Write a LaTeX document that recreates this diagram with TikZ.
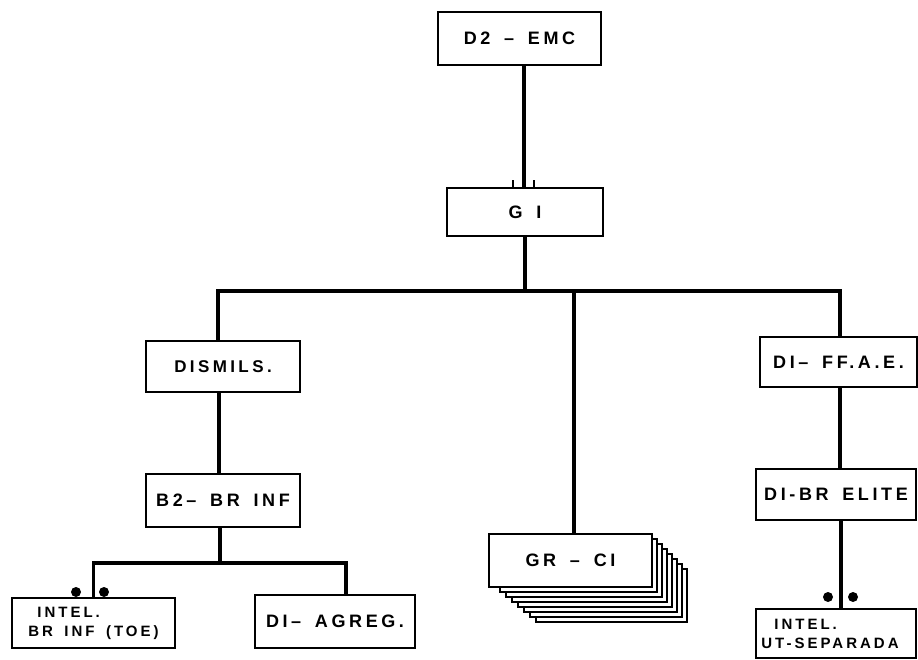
\documentclass[tikz,border=0pt]{standalone}
\usepackage{fontspec}
\setmainfont{Liberation Sans}
\newfontfamily\lbl{Liberation Sans Bold}[LetterSpace=20, WordSpace=1.6]
\begin{document}
\begin{tikzpicture}[x=1pt,y=-1pt,
  box/.style={draw, line width=2.4pt, fill=white, inner sep=0pt, align=center,
    font=\lbl\fontsize{18}{20}\selectfont},
  smallbox/.style={box, align=left, font=\lbl\fontsize{15}{19}\selectfont},
  conn/.style={line width=3.2pt},
  tickline/.style={line width=1.4pt},
  stackbox/.style={draw, line width=2.2pt, fill=white},
  dot/.style={circle, fill=black, inner sep=0pt, minimum size=10pt}]
\useasboundingbox (0,0) rectangle (918,660);

% stacked copies behind GR - CI
\foreach \i in {7,6,...,1}
  \draw[stackbox] (494+6*\i,534+5*\i) rectangle (652+5*\i,587+5*\i);

\node[box, minimum width=163pt, minimum height=53pt] (d2) at (519.5,38.5) {D2 – EMC};
\node[box, minimum width=156pt, minimum height=48pt] (gi) at (525,212) {G I};
\node[box, font=\lbl\fontsize{17}{19}\selectfont, minimum width=154pt, minimum height=51pt] (dismils) at (223,366.5) {DISMILS.};
\node[box, minimum width=154pt, minimum height=53pt] (b2) at (223,500.5) {B2– BR INF};
\node[smallbox, minimum width=163pt, minimum height=50pt] (intelbr) at (93.5,623) {\hspace*{9pt}INTEL.\\BR INF (TOE)};
\node[box, minimum width=160pt, minimum height=53pt] (agreg) at (335,621.5) {DI– AGREG.};
\node[box, minimum width=163pt, minimum height=53pt] (grci) at (570.5,560.5) {GR – CI};
\node[box, minimum width=157pt, minimum height=50pt] (ffae) at (838.5,362) {DI– FF.A.E.};
\node[box, minimum width=160pt, minimum height=51pt] (elite) at (836,494.5) {DI-BR ELITE};
\node[smallbox, minimum width=160pt, minimum height=49pt] (intelut) at (836,633.5) {\hspace*{13pt}INTEL.\\UT-SEPARADA\hspace*{12pt}};

\coordinate (bar) at (524,291);
\coordinate (hbar) at (220,563);

% connectors
\draw[conn] ([xshift=-1pt]gi.north) -- ([xshift=-1pt]gi.north |- d2.south);
\draw[tickline] ([xshift=-12pt]gi.north) -- ++(0,-7);
\draw[tickline] ([xshift=9pt]gi.north) -- ++(0,-7);
\draw[conn] (gi.south) -- (gi.south |- bar);
\draw[conn] ([xshift=-5pt]dismils.north) |- ([xshift=1.5pt]ffae.north |- bar) -- ([xshift=1.5pt]ffae.north);
\draw[conn] ([xshift=3.5pt]grci.north) -- ([xshift=3.5pt]grci.north |- bar);
\draw[conn] ([xshift=-4pt]dismils.south) -- ([xshift=-4pt]b2.north);
\draw[conn] ([xshift=-3pt]b2.south) -- ([xshift=-3pt]b2.south |- hbar);
\draw[conn] (intelbr.north) |- ([xshift=11pt]agreg.north |- hbar) -- ([xshift=11pt]agreg.north);
\draw[conn] ([xshift=1.5pt]ffae.south) -- ([xshift=1.5pt]ffae.south |- elite.north);
\draw[conn] ([xshift=5pt]elite.south) -- ([xshift=5pt]elite.south |- intelut.north);

% dots
\node[dot] (dl1) at (76,592) {};
\node[dot] (dl2) at (104,592) {};
\node[dot] (dr1) at (828,597) {};
\node[dot] (dr2) at (853,597) {};
\end{tikzpicture}
\end{document}
